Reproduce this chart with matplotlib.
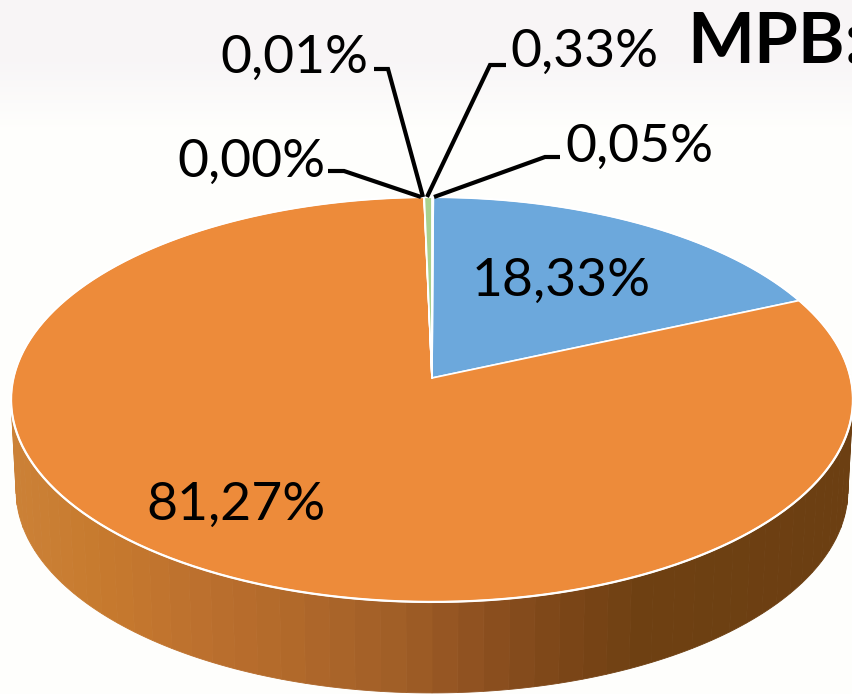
import numpy as np
import matplotlib
matplotlib.use('Agg')
import matplotlib.pyplot as plt

# slice values in percent, clockwise from the top
values = [18.33, 81.27, 0.00, 0.01, 0.33, 0.05]
colors = ['#6CA8DC', '#ED8B3A', '#A5A5A5', '#FFC000', '#A9D18E', '#5B9BD5']
title = 'MPB:'

plt.rcParams['font.family'] = ['Lato', 'DejaVu Sans']

fig = plt.figure(figsize=(8.52, 6.94), dpi=100)
ax = fig.add_axes([0, 0, 1, 1])
ax.set_xlim(0, 852)
ax.set_ylim(694, 0)
ax.axis('off')

# pale band behind the top of the slide
bg = np.ones((694, 1, 3))
fade = np.clip((130 - np.arange(694)) / 70, 0, 1)
bg[:, 0, 0] = 0.998 - 0.025 * fade
bg[:, 0, 1] = 0.998 - 0.035 * fade
bg[:, 0, 2] = 0.99 - 0.022 * fade
ax.imshow(bg, extent=(0, 852, 694, 0), aspect='auto', zorder=0)

# the pie is a flat disc seen in perspective
CX, CY, A, C, K = 432, 378, 418.6, 200.2, 0.106
DEPTH = 91
BOTTOM_SCALE = 0.988


def project(theta, r=1.0):
    u = r * np.sin(theta)
    v = r * np.cos(theta)
    d = 1 + K * v
    return CX + A * u / d, CY - C * v / d


# side wall, in strips from light (left) to dark (right)
wall_x = [0, 100, 200, 300, 400, 480, 560, 640, 852]
wall_c = np.array([[0xCC, 0x82, 0x38], [0xC7, 0x7A, 0x2E], [0xBC, 0x70, 0x2E],
                   [0xB0, 0x68, 0x2A], [0xA0, 0x5E, 0x27], [0x8E, 0x50, 0x20],
                   [0x7C, 0x46, 0x18], [0x6E, 0x40, 0x12], [0x6C, 0x3F, 0x12]])
edges = np.linspace(np.pi / 2 - 0.1, 3 * np.pi / 2 + 0.1, 61)
for t0, t1 in zip(edges[:-1], edges[1:]):
    t = np.linspace(t0, t1, 6)
    x, y = project(t)
    xb = CX + (x - CX) * BOTTOM_SCALE
    mid = x.mean()
    col = [np.interp(mid, wall_x, wall_c[:, i]) / 255 for i in range(3)]
    ax.fill(np.r_[x, xb[::-1]], np.r_[y, y[::-1] + DEPTH], color=col, lw=0.6, zorder=1)

# top face
start = np.deg2rad(0.2)
total = sum(values)
angle = start
for v, c in zip(values, colors):
    sweep = 2 * np.pi * v / total
    t = np.linspace(angle, angle + sweep, max(int(v * 8), 2))
    x, y = project(t)
    ax.fill(np.r_[CX, x], np.r_[CY, y], facecolor=c, edgecolor='white',
            lw=1.2, zorder=2, joinstyle='round')
    angle += sweep

# outline round the top face
t = np.linspace(0, 2 * np.pi, 400)
x, y = project(t)
ax.plot(x, y, color='white', lw=1.6, zorder=3)

# labels and leader lines
labels = [f'{v:.2f}'.replace('.', ',') + '%' for v in values]
label_pos = [(472, 296), (146, 520), (177, 177), (220, 73), (510, 67), (565, 162)]
for s, (lx, ly) in zip(labels, label_pos):
    ax.text(lx, ly, s, fontsize=38.5, color='black', ha='left', va='baseline', zorder=5)

leaders = [None, None,
           [(421, 197), (344, 171), (328, 171)],
           [(423, 197), (388, 69), (374, 69)],
           [(427, 197), (490, 65), (506, 65)],
           [(434, 197), (545, 157), (560, 157)]]
for pts in leaders:
    if pts is None:
        continue
    ax.plot(*zip(*pts), color='black', lw=3.0, zorder=4, solid_capstyle='butt',
            solid_joinstyle='miter')

ax.text(687, 62, title, fontsize=51, fontweight='bold', color='black',
        ha='left', va='baseline', zorder=5)

fig.savefig('out.png', dpi=100)
